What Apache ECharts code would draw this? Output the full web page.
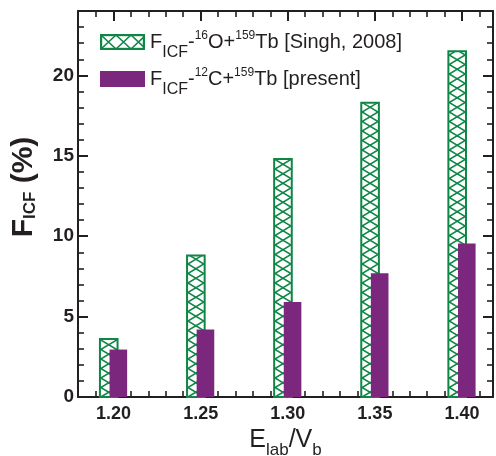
<!DOCTYPE html>
<html>
<head>
<meta charset="utf-8">
<script src="https://cdn.jsdelivr.net/npm/echarts@6/dist/echarts.min.js"></script>
<style>
  html, body { margin: 0; padding: 0; background: #ffffff; }
  #chart { width: 496px; height: 456px; }
</style>
</head>
<body>
<div id="chart"></div>
<script>
// Incomplete-fusion fraction F_ICF versus normalised beam energy E_lab/V_b
const ENERGY = [1.20, 1.25, 1.30, 1.35, 1.40];
const F_ICF_O16_TB = [3.6, 8.8, 14.8, 18.3, 21.5];   // 16O + 159Tb [Singh, 2008]
const F_ICF_C12_TB = [2.95, 4.2, 5.9, 7.7, 9.55];    // 12C + 159Tb [present]

// Axis tick values
const X_TICKS = [1.20, 1.25, 1.30, 1.35, 1.40];
const X_MINOR_TICKS = [1.19, 1.21, 1.22, 1.23, 1.24, 1.26, 1.27, 1.28, 1.29,
                       1.31, 1.32, 1.33, 1.34, 1.36, 1.37, 1.38, 1.39, 1.41];
const Y_TICKS = [0, 5, 10, 15, 20];
const Y_MINOR_TICKS = [1, 2, 3, 4, 6, 7, 8, 9, 11, 12, 13, 14, 16, 17, 18, 19, 21, 22, 23];

// Series names
const NAME_O16 = 'FICF-16O+159Tb [Singh, 2008]';
const NAME_C12 = 'FICF-12C+159Tb [present]';

// Styling
const FONT = "'Liberation Sans', Arial, Helvetica, sans-serif";
const INK = '#231f20';
const GREEN = '#0f8646';
const PURPLE = '#7b277d';
const BAR_W = 17.6;
const SHIFT_O16 = -4.8;
const SHIFT_C12 = 4.8;
const HATCH_H = 9.5;
const X_MIN = 1.1796, X_MAX = 1.4178;
const Y_MIN = 0, Y_MAX = 24;

// Cross-hatched legend swatch
function hatchIcon(w, h, cell) {
  const c = document.createElement('canvas');
  c.width = w; c.height = h;
  const g = c.getContext('2d');
  g.fillStyle = '#ffffff';
  g.fillRect(0, 0, w, h);
  g.strokeStyle = GREEN;
  g.lineWidth = 1.6;
  g.beginPath();
  for (let x = 1; x < w - 1.5; x += cell) {
    g.moveTo(x, 1); g.lineTo(x + cell, h - 1);
    g.moveTo(x, h - 1); g.lineTo(x + cell, 1);
  }
  g.stroke();
  g.lineWidth = 2.2;
  g.strokeRect(1.1, 1.1, w - 2.2, h - 2.2);
  return 'image://' + c.toDataURL();
}

// Cross-hatched bar: outlined rectangle with two zig-zag lines running up it
function hatchedBar(params, api) {
  const top = api.coord([api.value(0), api.value(1)]);
  const base = api.coord([api.value(0), 0]);
  const cx = top[0] + SHIFT_O16;
  const x0 = cx - BAR_W / 2;
  const yTop = top[1], yBase = base[1];
  const xl = x0 + 0.8, xr = x0 + BAR_W - 0.8;
  const a = [[xl, yBase]], b = [[xr, yBase]];
  let y = yBase, fromLeft = true;
  while (y > yTop + 0.01) {
    const ny = Math.max(yTop, y - HATCH_H);
    const f = (y - ny) / HATCH_H;
    const dx = (xr - xl) * f;
    a.push([fromLeft ? xl + dx : xr - dx, ny]);
    b.push([fromLeft ? xr - dx : xl + dx, ny]);
    y = ny;
    fromLeft = !fromLeft;
  }
  return {
    type: 'group',
    children: [
      { type: 'rect', shape: { x: x0, y: yTop, width: BAR_W, height: yBase - yTop },
        style: { fill: '#ffffff', stroke: null } },
      { type: 'polyline', shape: { points: a }, style: { fill: null, stroke: GREEN, lineWidth: 1.5 } },
      { type: 'polyline', shape: { points: b }, style: { fill: null, stroke: GREEN, lineWidth: 1.5 } },
      { type: 'rect', shape: { x: x0, y: yTop, width: BAR_W, height: yBase - yTop },
        style: { fill: null, stroke: GREEN, lineWidth: 2 } }
    ]
  };
}

// Solid bar
function solidBar(params, api) {
  const top = api.coord([api.value(0), api.value(1)]);
  const base = api.coord([api.value(0), 0]);
  const x0 = top[0] + SHIFT_C12 - BAR_W / 2;
  return {
    type: 'rect',
    shape: { x: x0, y: top[1], width: BAR_W, height: base[1] - top[1] },
    style: { fill: PURPLE }
  };
}

const legendRich = {
  m: { fontFamily: FONT, fontSize: 20, color: INK },
  sub: { fontFamily: FONT, fontSize: 16, color: INK, padding: [22, 0, 0, 0] },
  sup: { fontFamily: FONT, fontSize: 12, color: INK, padding: [0, 0, 12, 0] }
};
const legendText = {
  [NAME_O16]: '{m|F}{sub|ICF}{m|-}{sup|16}{m|O+}{sup|159}{m|Tb [Singh, 2008]}',
  [NAME_C12]: '{m|F}{sub|ICF}{m|-}{sup|12}{m|C+}{sup|159}{m|Tb [present]}'
};
function legendFor(name, icon, color, top) {
  return {
    left: 100, top: top, padding: 0, itemGap: 0, selectedMode: false,
    itemWidth: 45, itemHeight: 16,
    data: [{ name: name, icon: icon, itemStyle: { color: color, borderWidth: 0 } }],
    formatter: n => legendText[n],
    textStyle: { rich: legendRich }
  };
}

const tickLine = { color: INK, width: 2 };
const minorLine = { color: INK, width: 1.6 };

function xAxisDef(position, values, length, withLine, withLabel) {
  return {
    type: 'value', position: position, min: X_MIN, max: X_MAX,
    axisLine: { show: withLine, onZero: false, lineStyle: { color: INK, width: 2 } },
    axisTick: { show: true, inside: true, length: length, customValues: values,
                lineStyle: length > 7 ? tickLine : minorLine },
    axisLabel: { show: withLabel, customValues: values, margin: 8,
                 formatter: v => v.toFixed(2),
                 fontFamily: FONT, fontSize: 18, fontWeight: 'bold', color: INK },
    splitLine: { show: false }
  };
}
function yAxisDef(position, values, length, withLine, withLabel) {
  return {
    type: 'value', position: position, min: Y_MIN, max: Y_MAX,
    axisLine: { show: withLine, onZero: false, lineStyle: { color: INK, width: 2 } },
    axisTick: { show: true, inside: true, length: length, customValues: values,
                lineStyle: length > 7 ? tickLine : minorLine },
    axisLabel: { show: withLabel, customValues: values, margin: 4,
                 fontFamily: FONT, fontSize: 19, fontWeight: 'bold', color: INK },
    splitLine: { show: false }
  };
}

const xMain = xAxisDef('bottom', X_TICKS, 10, true, true);
xMain.name = '{e|E}{s|lab}{e|/V}{s|b}';
xMain.nameLocation = 'middle';
xMain.nameGap = 15;
xMain.nameTextStyle = {
  rich: {
    e: { fontFamily: FONT, fontSize: 25, color: INK },
    s: { fontFamily: FONT, fontSize: 17, color: INK, padding: [20, 0, 0, 0] }
  }
};

const chart = echarts.init(document.getElementById('chart'), null, { renderer: 'canvas' });
chart.setOption({
  animation: false,
  backgroundColor: '#ffffff',
  grid: { left: 78, right: 3, top: 11, bottom: 59, containLabel: false, outerBoundsMode: 'none' },
  xAxis: [
    xMain,
    xAxisDef('bottom', X_MINOR_TICKS, 6, false, false),
    xAxisDef('top', X_TICKS, 10, true, false),
    xAxisDef('top', X_MINOR_TICKS, 6, false, false)
  ],
  yAxis: [
    yAxisDef('left', Y_TICKS, 10, true, true),
    yAxisDef('left', Y_MINOR_TICKS, 6, false, false),
    yAxisDef('right', Y_TICKS, 10, true, false),
    yAxisDef('right', Y_MINOR_TICKS, 6, false, false)
  ],
  legend: [
    legendFor(NAME_O16, hatchIcon(45, 16, 15), GREEN, 30),
    legendFor(NAME_C12, 'rect', PURPLE, 67)
  ],
  graphic: [{
    type: 'text', x: 24, y: 187, rotation: Math.PI / 2,
    style: {
      text: '{f|F}{s|ICF}{f| (%)}',
      align: 'center', verticalAlign: 'middle',
      rich: {
        f: { fontFamily: FONT, fontSize: 30, fontWeight: 'bold', fill: INK },
        s: { fontFamily: FONT, fontSize: 17, fontWeight: 'bold', fill: INK, padding: [12, 0, 0, 0] }
      }
    }
  }],
  series: [
    {
      type: 'custom', name: NAME_O16, xAxisIndex: 0, yAxisIndex: 0,
      itemStyle: { color: GREEN },
      data: ENERGY.map((e, i) => [e, F_ICF_O16_TB[i]]),
      encode: { x: 0, y: 1 },
      renderItem: hatchedBar, z: 3
    },
    {
      type: 'custom', name: NAME_C12, xAxisIndex: 0, yAxisIndex: 0,
      itemStyle: { color: PURPLE },
      data: ENERGY.map((e, i) => [e, F_ICF_C12_TB[i]]),
      encode: { x: 0, y: 1 },
      renderItem: solidBar, z: 4
    }
  ]
});
</script>
</body>
</html>
